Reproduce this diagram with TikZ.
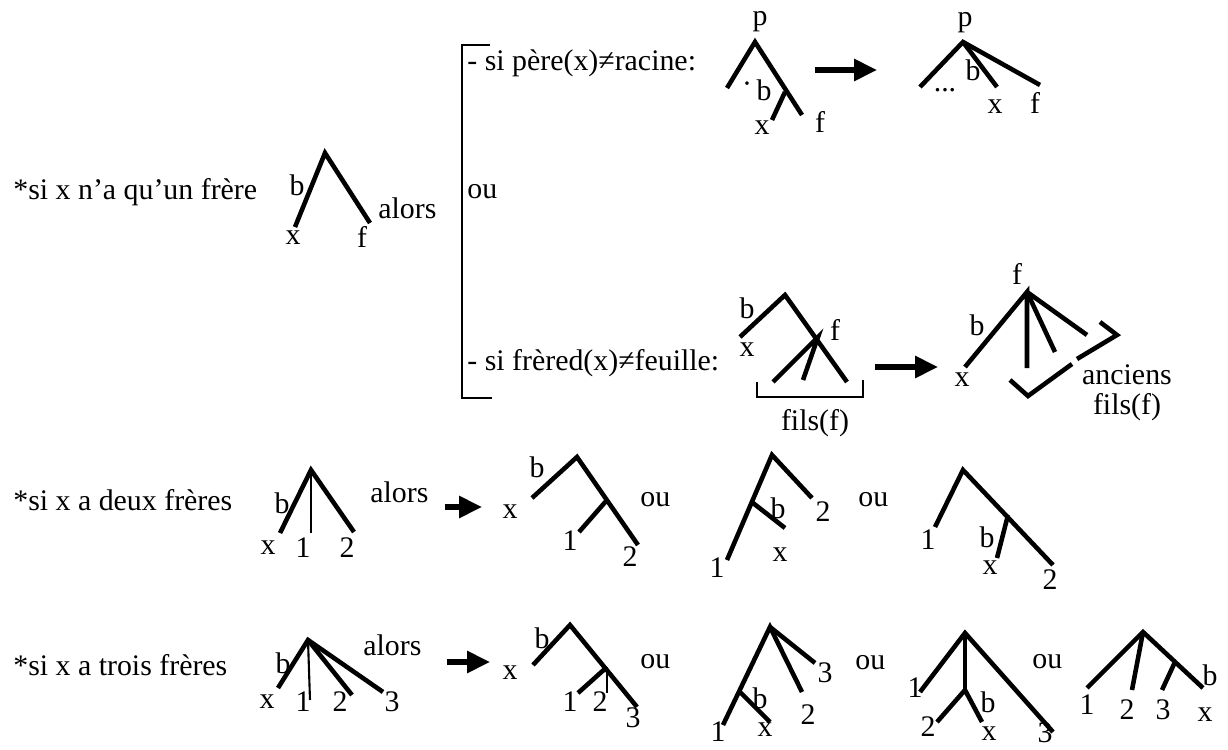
\documentclass[tikz,border=0pt]{standalone}
\usepackage{fontspec}
\setmainfont{Liberation Serif}
\usetikzlibrary{arrows.meta}
\tikzset{
  branche/.style={line width=2.6pt},
  mince/.style={line width=1.2pt},
  crochet/.style={line width=1.3pt},
  fleche/.style={line width=3pt, -{Triangle[length=13pt,width=12pt]}},
  lbl/.style={inner sep=0pt, font=\fontsize{17}{20}\selectfont},
  txt/.style={lbl, anchor=west},
}
\begin{document}
\begin{tikzpicture}[x=0.02cm, y=-0.02cm]
\useasboundingbox (0,0) rectangle (1228,750);

% ligne 1 : un seul frere
\node[txt] (t1) at (13,192) {*si x n'a qu'un frère};
\coordinate (a0) at (325,153);
\coordinate (a1) at (295,227);
\coordinate (a2) at (370,223);
\draw[branche] (a1) -- (a0) -- (a2);
\node[lbl] (a-b) at (297,185) {b};
\node[lbl] (a-x) at (293,238) {x};
\node[lbl] (a-f) at (362,237) {f};
\node[txt] (alors1) at (378,208) {alors};

% crochet
\coordinate (k1) at (490,45);
\coordinate (k2) at (462,45);
\coordinate (k3) at (462,398);
\coordinate (k4) at (492,398);
\draw[crochet] (k1) -- (k2) -- (k3) -- (k4);
\node[txt] (cas1) at (467,63) {- si père(x)≠racine:};
\node[txt] (ou0) at (467,192) {ou};
\node[txt] (cas2) at (467,363) {- si frèred(x)≠feuille:};

% pere(x) != racine
\coordinate (b0) at (755,42);
\coordinate (b1) at (727,88);
\coordinate (b2) at (802,115);
\coordinate (bn) at (785,92);
\coordinate (bx) at (772,120);
\draw[branche] (b1) -- (b0) -- (b2);
\draw[branche] (bn) -- (bx);
\node[lbl] (b-p) at (760,22) {p};
\node[lbl] (b-pt) at (747,88) {·};
\node[lbl] (b-b) at (764,90) {b};
\node[lbl] (b-x) at (762,128) {x};
\node[lbl] (b-f) at (820,122) {f};
\coordinate (f1a) at (815,70);
\coordinate (f1b) at (877,70);
\draw[fleche] (f1a) -- (f1b);
\coordinate (c0) at (963,42);
\coordinate (c1) at (920,87);
\coordinate (c2) at (997,87);
\coordinate (c3) at (1040,85);
\draw[branche] (c1) -- (c0) -- (c3);
\draw[branche] (c0) -- (c2);
\node[lbl] (c-p) at (965,23) {p};
\node[lbl] (c-b) at (973,70) {b};
\node[lbl] (c-d) at (945,90) {...};
\node[lbl] (c-x) at (995,107) {x};
\node[lbl] (c-f) at (1035,103) {f};

% frered(x) != feuille
\coordinate (d0) at (785,295);
\coordinate (dx) at (740,337);
\coordinate (dn) at (818,337);
\coordinate (d3) at (847,382);
\coordinate (d1) at (773,382);
\coordinate (d2) at (803,380);
\draw[branche] (dx) -- (d0) -- (d3);
\draw[branche] (d1) -- (dn) -- (d2);
\node[lbl] (d-b) at (747,308) {b};
\node[lbl] (d-x) at (747,350) {x};
\node[lbl] (d-f) at (835,330) {f};
\coordinate (s1) at (757,382);
\coordinate (s2) at (757,397);
\coordinate (s3) at (863,397);
\coordinate (s4) at (863,380);
\draw[crochet] (s1) -- (s2) -- (s3) -- (s4);
\node[lbl] (d-fils) at (815,423) {fils(f)};
\coordinate (f2a) at (875,367);
\coordinate (f2b) at (938,367);
\draw[fleche] (f2a) -- (f2b);
\coordinate (e0) at (1027,292);
\coordinate (ex) at (965,367);
\coordinate (e1) at (1027,368);
\coordinate (e2) at (1055,352);
\coordinate (e3) at (1087,335);
\draw[branche] (ex) -- (e0) -- (e1);
\draw[branche] (e0) -- (e2);
\draw[branche] (e0) -- (e3);
\node[lbl] (e-f) at (1017,274) {f};
\node[lbl] (e-b) at (977,325) {b};
\node[lbl] (e-x) at (962,380) {x};
\coordinate (g1) at (1100,322);
\coordinate (g2) at (1117,335);
\coordinate (g3) at (1077,359);
\coordinate (g4) at (1072,364);
\coordinate (g5) at (1028,396);
\coordinate (g6) at (1010,380);
\draw[branche] (g1) -- (g2) -- (g3);
\draw[branche] (g4) -- (g5) -- (g6);
\node[lbl] (e-anc) at (1127,375) {anciens};
\node[lbl] (e-fils) at (1127,407) {fils(f)};

% ligne 2 : deux freres
\node[txt] (t2) at (13,500) {*si x a deux frères};
\coordinate (h0) at (311,470);
\coordinate (hx) at (280,533);
\coordinate (h1) at (311,533);
\coordinate (h2) at (354,532);
\draw[branche] (hx) -- (h0) -- (h2);
\draw[mince] (h0) -- (h1);
\node[lbl] (h-b) at (282,503) {b};
\node[lbl] (h-x) at (268,548) {x};
\node[lbl] (h-1) at (303,548) {1};
\node[lbl] (h-2) at (347,548) {2};
\node[txt] (alors2) at (370,492) {alors};
\coordinate (f3a) at (445,507);
\coordinate (f3b) at (482,507);
\draw[fleche] (f3a) -- (f3b);

\coordinate (i0) at (577,457);
\coordinate (ix) at (532,498);
\coordinate (in) at (607,500);
\coordinate (i1) at (579,532);
\coordinate (i2) at (638,545);
\draw[branche] (ix) -- (i0) -- (i2);
\draw[branche] (in) -- (i1);
\node[lbl] (i-b) at (537,467) {b};
\node[lbl] (i-x) at (510,512) {x};
\node[lbl] (i-1) at (570,541) {1};
\node[lbl] (i-2) at (630,557) {2};
\node[txt] (ou1) at (640,500) {ou};

\coordinate (j0) at (772,455);
\coordinate (jn) at (753,503);
\coordinate (j1) at (727,560);
\coordinate (jx) at (785,528);
\coordinate (j2) at (812,498);
\draw[branche] (j1) -- (j0) -- (j2);
\draw[branche] (jn) -- (jx);
\node[lbl] (j-b) at (778,508) {b};
\node[lbl] (j-x) at (780,555) {x};
\node[lbl] (j-1) at (717,568) {1};
\node[lbl] (j-2) at (823,512) {2};
\node[txt] (ou2) at (858,500) {ou};

\coordinate (m0) at (963,470);
\coordinate (m1) at (935,527);
\coordinate (mn) at (1008,515);
\coordinate (m2) at (1053,565);
\coordinate (mx) at (997,558);
\draw[branche] (m1) -- (m0) -- (m2);
\draw[branche] (mn) -- (mx);
\node[lbl] (m-1) at (928,540) {1};
\node[lbl] (m-b) at (987,537) {b};
\node[lbl] (m-x) at (990,568) {x};
\node[lbl] (m-2) at (1050,580) {2};

% ligne 3 : trois freres
\node[txt] (t3) at (13,665) {*si x a trois frères};
\coordinate (n0) at (308,640);
\coordinate (nx) at (278,688);
\coordinate (n1) at (310,700);
\coordinate (n2) at (352,695);
\coordinate (n3) at (383,692);
\draw[branche] (nx) -- (n0) -- (n3);
\draw[branche] (n0) -- (n2);
\draw[mince] (n0) -- (n1);
\node[lbl] (n-b) at (283,663) {b};
\node[lbl] (n-x) at (267,702) {x};
\node[lbl] (n-1) at (303,702) {1};
\node[lbl] (n-2) at (340,702) {2};
\node[lbl] (n-3) at (392,702) {3};
\node[txt] (alors3) at (363,645) {alors};
\coordinate (f4a) at (447,662);
\coordinate (f4b) at (490,662);
\draw[fleche] (f4a) -- (f4b);

\coordinate (o0) at (570,625);
\coordinate (ox) at (533,665);
\coordinate (on) at (607,667);
\coordinate (o1) at (578,693);
\coordinate (o2) at (607,693);
\coordinate (o3) at (637,707);
\draw[branche] (ox) -- (o0) -- (o3);
\draw[branche] (on) -- (o1);
\draw[mince] (on) -- (o2);
\node[lbl] (o-b) at (542,638) {b};
\node[lbl] (o-x) at (510,673) {x};
\node[lbl] (o-1) at (570,702) {1};
\node[lbl] (o-2) at (600,702) {2};
\node[lbl] (o-3) at (633,718) {3};
\node[txt] (ou3) at (640,662) {ou};

\coordinate (q0) at (770,627);
\coordinate (q1) at (723,725);
\coordinate (qn) at (740,692);
\coordinate (qx) at (770,722);
\coordinate (q2) at (802,692);
\coordinate (q3) at (815,663);
\draw[branche] (q1) -- (q0) -- (q2);
\draw[branche] (q0) -- (q3);
\draw[branche] (qn) -- (qx);
\node[lbl] (q-b) at (760,698) {b};
\node[lbl] (q-x) at (765,730) {x};
\node[lbl] (q-1) at (718,732) {1};
\node[lbl] (q-2) at (808,715) {2};
\node[lbl] (q-3) at (825,673) {3};
\node[txt] (ou4) at (855,663) {ou};

\coordinate (r0) at (965,633);
\coordinate (r1) at (920,692);
\coordinate (rn) at (965,690);
\coordinate (r2) at (937,722);
\coordinate (rx) at (982,722);
\coordinate (r3) at (1053,732);
\draw[branche] (r1) -- (r0) -- (r3);
\draw[line width=1.8pt] (r0) -- (rn);
\draw[branche] (r2) -- (rn) -- (rx);
\node[lbl] (r-1) at (915,688) {1};
\node[lbl] (r-2) at (928,727) {2};
\node[lbl] (r-b) at (988,702) {b};
\node[lbl] (r-x) at (989,734) {x};
\node[lbl] (r-3) at (1045,733) {3};
\node[txt] (ou5) at (1032,662) {ou};

\coordinate (u0) at (1143,632);
\coordinate (u1) at (1087,688);
\coordinate (u2) at (1132,690);
\coordinate (un) at (1175,662);
\coordinate (u3) at (1162,690);
\coordinate (ux) at (1203,688);
\draw[branche] (u1) -- (u0) -- (ux);
\draw[branche] (u0) -- (u2);
\draw[branche] (un) -- (u3);
\node[lbl] (u-1) at (1087,705) {1};
\node[lbl] (u-2) at (1127,710) {2};
\node[lbl] (u-3) at (1163,710) {3};
\node[lbl] (u-b) at (1210,675) {b};
\node[lbl] (u-x) at (1205,715) {x};
\end{tikzpicture}
\end{document}
